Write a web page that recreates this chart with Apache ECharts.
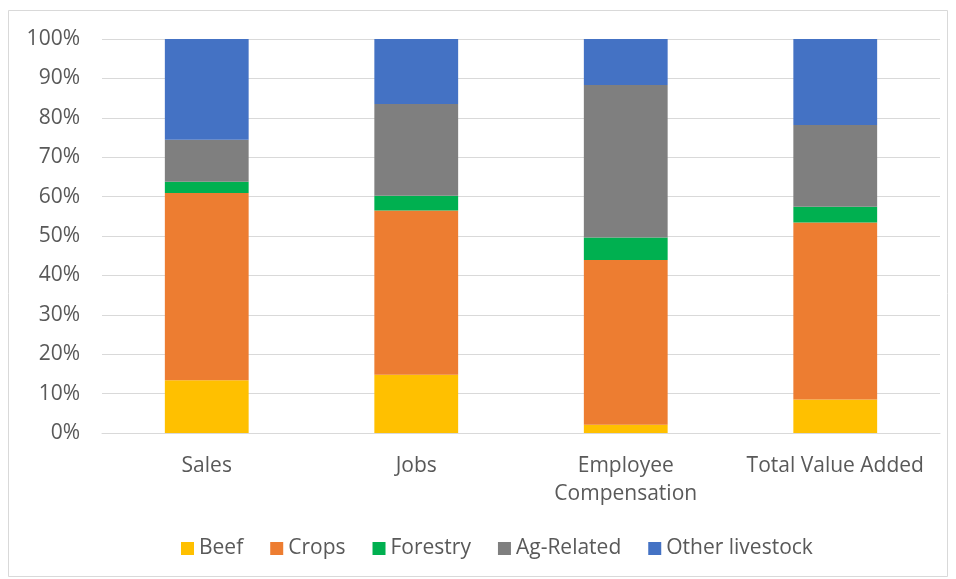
<!DOCTYPE html>
<html>
<head>
<meta charset="utf-8">
<script src="https://cdn.jsdelivr.net/npm/echarts@6/dist/echarts.min.js"></script>
<style>
  html, body { margin: 0; padding: 0; background: #ffffff; }
  #chart { width: 956px; height: 579px; }
</style>
</head>
<body>
<div id="chart"></div>
<script>
// Share of each sector in the four economic measures (percent)
const categories = ['Sales', 'Jobs', 'Employee\nCompensation', 'Total Value Added'];
const beef = [13.4, 14.8, 2.1, 8.5];
const crops = [47.5, 41.7, 41.8, 44.9];
const forestry = [2.9, 3.7, 5.7, 4.0];
const agRelated = [10.6, 23.3, 38.7, 20.8];
const otherLivestock = [25.6, 16.5, 11.7, 21.8];
const yTicks = [0, 10, 20, 30, 40, 50, 60, 70, 80, 90, 100];

const seriesDefs = [
  { name: 'Beef', data: beef, color: '#FFC000' },
  { name: 'Crops', data: crops, color: '#ED7D31' },
  { name: 'Forestry', data: forestry, color: '#00B050' },
  { name: 'Ag-Related', data: agRelated, color: '#7F7F7F' },
  { name: 'Other livestock', data: otherLivestock, color: '#4472C4' }
];

const font = '"Open Sans", "Noto Sans", sans-serif';
const chart = echarts.init(document.getElementById('chart'), null, { renderer: 'canvas' });

chart.setOption({
  animation: false,
  backgroundColor: '#ffffff',
  graphic: [{
    type: 'rect',
    shape: { x: 8.5, y: 10.5, width: 939, height: 566 },
    style: { fill: 'none', stroke: '#d9d9d9', lineWidth: 1 },
    silent: true,
    z: -10
  }],
  grid: { left: 102, right: 16, top: 39, bottom: 146, containLabel: false },
  legend: {
    top: 533,
    left: 176,
    itemWidth: 13,
    itemHeight: 13,
    itemGap: 27,
    icon: 'rect',
    textStyle: { fontFamily: font, fontSize: 21, color: '#595959' },
    data: seriesDefs.map(s => s.name)
  },
  xAxis: {
    type: 'category',
    data: categories,
    axisLine: { lineStyle: { color: '#d9d9d9', width: 1 } },
    axisTick: { show: false },
    axisLabel: {
      fontFamily: font, fontSize: 21, color: '#595959',
      margin: 19, lineHeight: 28, interval: 0
    }
  },
  yAxis: {
    type: 'value',
    min: 0, max: 100, interval: 10,
    axisLine: { show: false },
    axisTick: { show: false },
    splitLine: { lineStyle: { color: '#d9d9d9', width: 1 } },
    axisLabel: {
      fontFamily: font, fontSize: 21, color: '#595959', margin: 22,
      formatter: v => yTicks.includes(v) ? v + '%' : ''
    }
  },
  series: seriesDefs.map(s => ({
    name: s.name,
    type: 'bar',
    stack: 'total',
    barWidth: '40%',
    data: s.data,
    itemStyle: { color: s.color },
    emphasis: { disabled: true }
  }))
});
</script>
</body>
</html>
